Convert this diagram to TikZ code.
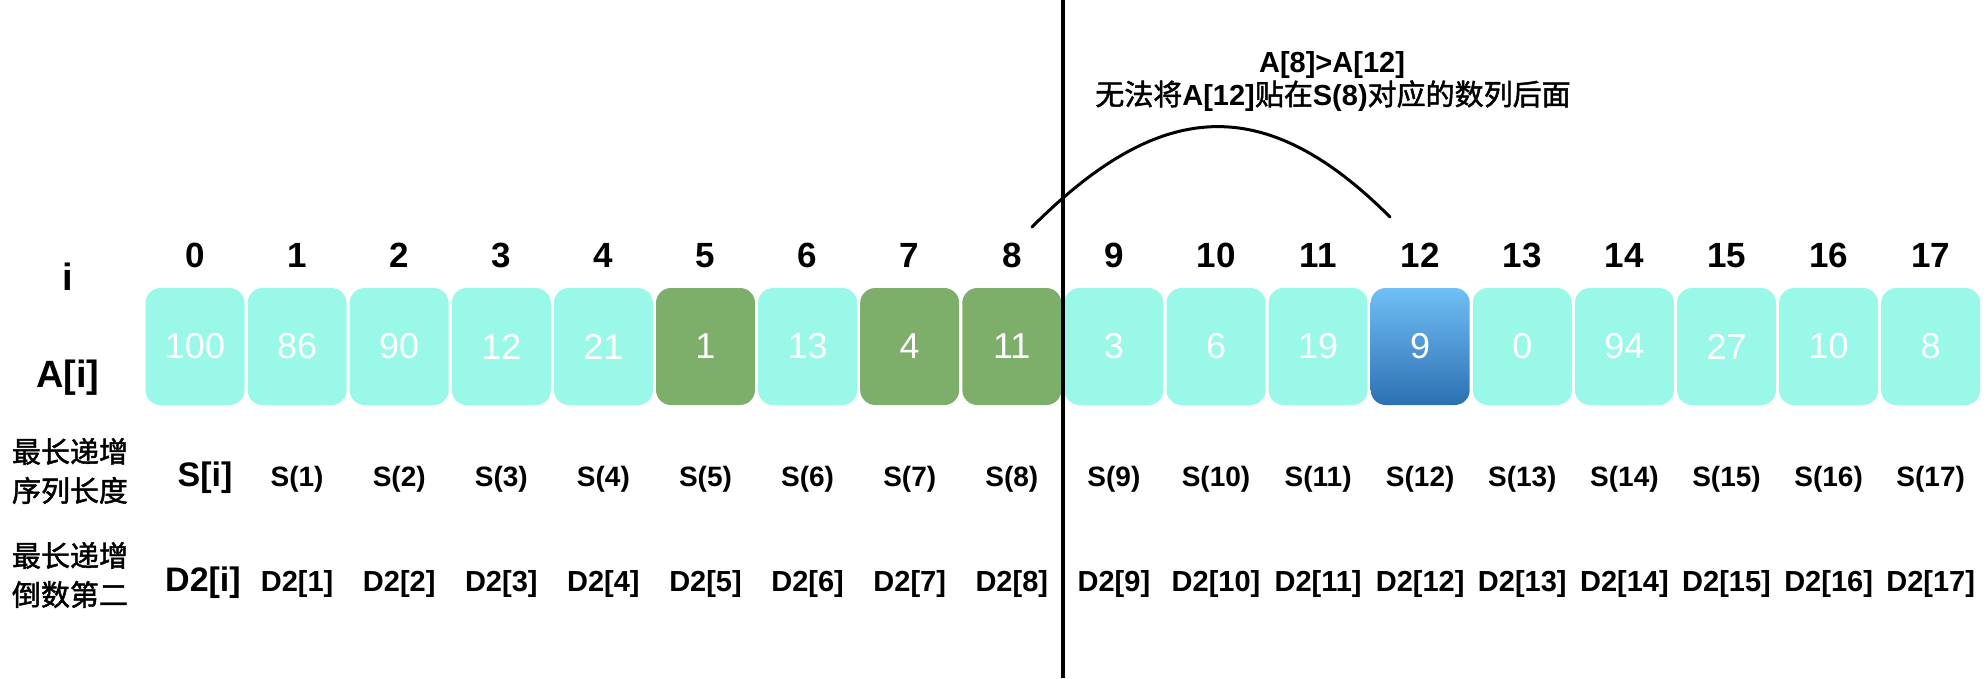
\documentclass[tikz,border=0pt]{standalone}
\usepackage{fontspec}
\setmainfont{Liberation Sans}
\newfontfamily\cjk[FakeBold=1.6]{Noto Sans CJK SC}
\definecolor{cyanc}{RGB}{153,248,232}
\definecolor{greenc}{RGB}{125,174,106}
\definecolor{bluetop}{RGB}{112,191,246}
\definecolor{bluebot}{RGB}{44,112,178}
\newcommand{\zh}[1]{{\mdseries\cjk #1}}
\begin{document}
\begin{tikzpicture}[x=1pt,y=-1pt,
  cell/.style={rounded corners=15pt, minimum width=99pt, minimum height=117pt, inner sep=0pt, text=white, font=\fontsize{36}{40}\selectfont},
  cyancell/.style={cell, fill=cyanc},
  greencell/.style={cell, fill=greenc},
  bluecell/.style={cell, top color=bluetop, bottom color=bluebot},
  idx/.style={anchor=base, inner sep=0pt, font=\bfseries\fontsize{35}{40}\selectfont},
  lab/.style={anchor=base, inner sep=0pt, font=\bfseries\fontsize{38}{44}\selectfont},
  biglab/.style={anchor=base, inner sep=0pt, font=\bfseries\fontsize{34}{40}\selectfont},
  srow/.style={anchor=base, inner sep=0pt, font=\bfseries\fontsize{28}{32}\selectfont},
  drow/.style={anchor=base, inner sep=0pt, font=\bfseries\fontsize{29}{32}\selectfont},
  cjklab/.style={align=center, inner sep=0pt, font=\cjk\fontsize{29}{39}\selectfont},
  note/.style={anchor=base, inner sep=0pt, font=\bfseries\fontsize{29}{34}\selectfont},
  curve/.style={line width=3pt, line cap=round},
  divider/.style={line width=4pt}
]
\useasboundingbox (0,0) rectangle (1988,678);
% boxes
\foreach \i/\v/\s in {0/100/cyancell,1/86/cyancell,2/90/cyancell,3/12/cyancell,4/21/cyancell,5/1/greencell,6/13/cyancell,7/4/greencell,8/11/greencell,9/3/cyancell,10/6/cyancell,11/19/cyancell,12/9/bluecell,13/0/cyancell,14/94/cyancell,15/27/cyancell,16/10/cyancell,17/8/cyancell}{
  \node[\s] (b\i) at ({195+102.1*\i},346.5) {\raisebox{-1pt}{\v}};
  \node[idx] (n\i) at ({195+102.1*\i},267) {\i};
}
\foreach \i in {1,...,17}{
  \node[srow] (s\i) at ({195+102.1*\i},486) {S(\i)};
  \node[drow] (d\i) at ({195+102.1*\i},591) {D2[\i]};
}
% row labels
\node[lab] (li) at (68,290) {i};
\node[lab] (la) at (68,387) {A[i]};
\node[biglab] (ls) at (205,486) {S[i]};
\node[biglab] (ld) at (203,591) {D2[i]};
\node[cjklab] (cs) at (70,471) {最长递增\\序列长度};
\node[cjklab] (cd) at (70,575) {最长递增\\倒数第二};
% note
\node[note] (t1) at (1332,72) {A[8]>A[12]};
\node[note] (t2) at (1333,105) {\zh{无法将}A[12]\zh{贴在}S(8)\zh{对应的数列后面}};
% divider
\coordinate (vtop) at (1063,0);
\coordinate (vbot) at (1063,678);
\draw[divider] (vtop) -- (vbot);
% arc
\coordinate (as) at (1032,227);
\coordinate (ae) at (1390,217);
\draw[curve] (as) .. controls (1159,100) and (1263,90) .. (ae);
\end{tikzpicture}
\end{document}
